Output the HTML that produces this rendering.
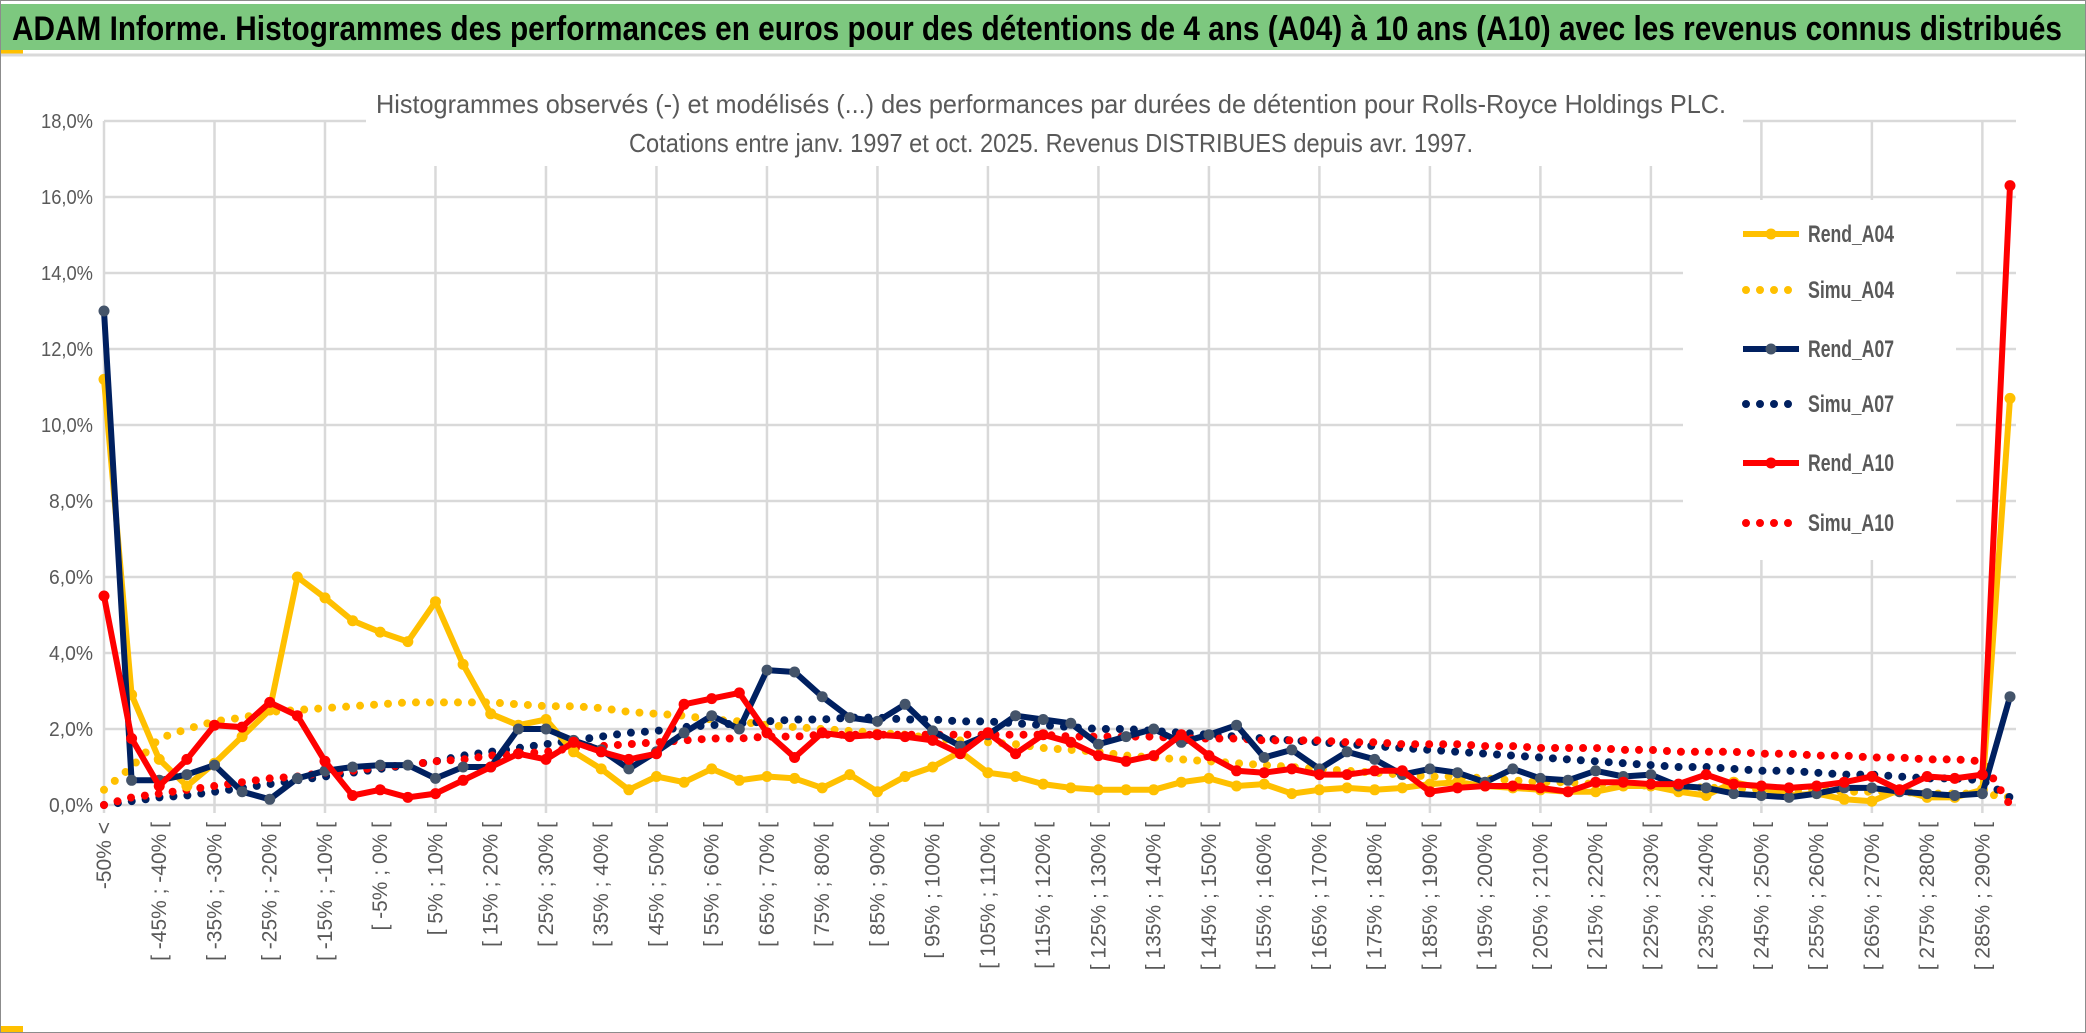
<!DOCTYPE html>
<html><head><meta charset="utf-8"><style>
html,body{margin:0;padding:0;background:#fff;}
svg{display:block;font-family:"Liberation Sans",sans-serif;}
</style></head><body>
<svg id="chart" width="2086" height="1033" viewBox="0 0 2086 1033" xmlns="http://www.w3.org/2000/svg">
<rect x="0.5" y="0.5" width="2085" height="1032" fill="#fff" stroke="#8c8c8c"/>
<rect x="1" y="4" width="2084" height="46" fill="#7DC87F"/>
<rect x="1" y="50" width="22" height="4" fill="#FFC000"/>
<line x1="1" y1="55" x2="2085" y2="55" stroke="#d9d9d9" stroke-width="3"/>
<text x="12" y="40" font-size="34" font-weight="bold" fill="#000" textLength="2050" lengthAdjust="spacingAndGlyphs">ADAM Informe. Histogrammes des performances en euros pour des détentions de 4 ans (A04) à 10 ans (A10) avec les revenus connus distribués</text>
<g id="grid"></g>
<g id="yaxis"></g>
<g id="xaxis"></g>
<rect x="366" y="82" width="1377" height="84" fill="#fff"/>
<text x="1051" y="113" font-size="26" fill="#595959" text-anchor="middle" textLength="1350" lengthAdjust="spacingAndGlyphs">Histogrammes observés (-) et modélisés (...) des performances par durées de détention pour Rolls-Royce Holdings PLC.</text>
<text x="1051" y="152" font-size="26" fill="#595959" text-anchor="middle" textLength="844" lengthAdjust="spacingAndGlyphs">Cotations entre janv. 1997 et oct. 2025. Revenus DISTRIBUES depuis avr. 1997.</text>
<rect x="1683" y="200" width="273" height="360" fill="#fff"/>
<g id="series"></g>
<g id="legend"></g>
<rect x="1" y="1026" width="22" height="6" fill="#FFC000"/>
</svg>
<script>
const categories = ["-50% <"];
for (let k = -50; k < 290; k += 5) categories.push("[ " + k + "% ; " + (k + 5) + "% [");
categories.push("> 290%");
const yTicks = [0, 2, 4, 6, 8, 10, 12, 14, 16, 18];
const yTickLabels = ["0,0%","2,0%","4,0%","6,0%","8,0%","10,0%","12,0%","14,0%","16,0%","18,0%"];
const rendA04 = [11.2,2.9,1.2,0.5,1.1,1.8,2.5,6.0,5.45,4.85,4.55,4.3,5.35,3.7,2.4,2.1,2.25,1.4,0.95,0.4,0.75,0.6,0.95,0.65,0.75,0.7,0.45,0.8,0.35,0.75,1.0,1.4,0.85,0.75,0.55,0.45,0.4,0.4,0.4,0.6,0.7,0.5,0.55,0.3,0.4,0.45,0.4,0.45,0.55,0.6,0.5,0.45,0.4,0.35,0.35,0.5,0.5,0.35,0.25,0.6,0.45,0.25,0.3,0.15,0.1,0.4,0.2,0.2,0.4,10.7];
const rendA07 = [13.0,0.65,0.65,0.8,1.05,0.35,0.15,0.7,0.9,1.0,1.05,1.05,0.7,1.0,1.0,2.0,2.0,1.7,1.45,0.95,1.4,1.9,2.35,2.0,3.55,3.5,2.85,2.3,2.2,2.65,1.95,1.55,1.85,2.35,2.25,2.15,1.6,1.8,2.0,1.65,1.85,2.1,1.25,1.45,0.95,1.4,1.2,0.8,0.95,0.85,0.6,0.95,0.7,0.65,0.9,0.75,0.8,0.5,0.45,0.3,0.25,0.2,0.3,0.45,0.45,0.35,0.3,0.25,0.3,2.85];
const rendA10 = [5.5,1.75,0.5,1.2,2.1,2.05,2.7,2.35,1.15,0.25,0.4,0.2,0.3,0.65,1.0,1.35,1.2,1.65,1.4,1.2,1.35,2.65,2.8,2.95,1.9,1.25,1.9,1.8,1.85,1.8,1.7,1.35,1.9,1.35,1.85,1.65,1.3,1.15,1.3,1.85,1.3,0.9,0.85,0.95,0.8,0.8,0.9,0.9,0.35,0.45,0.5,0.5,0.45,0.35,0.6,0.6,0.55,0.55,0.8,0.55,0.5,0.45,0.5,0.6,0.75,0.4,0.75,0.7,0.8,16.3];
const simuA04 = [0.4,1.0,1.75,2.0,2.2,2.3,2.45,2.5,2.55,2.6,2.65,2.7,2.7,2.7,2.7,2.65,2.6,2.6,2.55,2.45,2.4,2.35,2.25,2.2,2.1,2.05,2.0,1.95,1.9,1.85,1.75,1.7,1.65,1.6,1.5,1.45,1.4,1.3,1.25,1.2,1.15,1.1,1.05,1.0,0.95,0.9,0.85,0.8,0.75,0.75,0.7,0.65,0.6,0.6,0.55,0.55,0.5,0.5,0.45,0.45,0.4,0.4,0.4,0.35,0.35,0.35,0.3,0.3,0.3,0.2];
const simuA07 = [0.0,0.1,0.2,0.25,0.35,0.45,0.55,0.65,0.75,0.85,0.95,1.05,1.15,1.3,1.4,1.5,1.6,1.7,1.8,1.9,1.95,2.05,2.1,2.15,2.2,2.25,2.25,2.3,2.3,2.25,2.25,2.2,2.2,2.15,2.1,2.05,2.0,2.0,1.95,1.9,1.85,1.8,1.75,1.7,1.65,1.6,1.55,1.5,1.45,1.4,1.35,1.3,1.25,1.2,1.15,1.1,1.05,1.0,1.0,0.95,0.9,0.9,0.85,0.8,0.8,0.75,0.7,0.7,0.65,0.2];
const simuA10 = [0.0,0.2,0.3,0.4,0.5,0.6,0.7,0.75,0.85,0.9,1.0,1.05,1.15,1.2,1.3,1.35,1.4,1.5,1.55,1.6,1.65,1.7,1.75,1.75,1.8,1.8,1.85,1.85,1.85,1.85,1.85,1.85,1.85,1.85,1.85,1.8,1.8,1.8,1.8,1.75,1.75,1.75,1.7,1.7,1.7,1.65,1.65,1.6,1.6,1.6,1.55,1.55,1.5,1.5,1.5,1.45,1.45,1.4,1.4,1.4,1.35,1.35,1.3,1.3,1.25,1.25,1.2,1.2,1.15,0.0];
const seriesNames = ["Rend_A04","Simu_A04","Rend_A07","Simu_A07","Rend_A10","Simu_A10"];

const NS = "http://www.w3.org/2000/svg";
const X0 = 104, X1 = 2010, Y0 = 805, Y1 = 121, YMAX = 18, RIGHT = 2016;
function xPos(i){ return X0 + i * (X1 - X0) / (categories.length - 1); }
function yPos(v){ return Y0 - v * (Y0 - Y1) / YMAX; }
function mk(tag, attrs, parent){ const e = document.createElementNS(NS, tag); for (const k in attrs) e.setAttribute(k, attrs[k]); parent.appendChild(e); return e; }

const grid = document.getElementById("grid");
const yaxis = document.getElementById("yaxis");
const xaxis = document.getElementById("xaxis");
yTicks.forEach((t, i) => {
  const y = yPos(t);
  const l = mk("line", {x1: X0, x2: RIGHT, y1: y, y2: y, stroke: "#d9d9d9", "stroke-width": 2.5}, grid);
  
  
  const tx = mk("text", {x: 93, y: y + 7, "font-size": 20, fill: "#595959", "text-anchor": "end", textLength: t >= 10 ? 52 : 44, lengthAdjust: "spacingAndGlyphs"}, yaxis);
  tx.textContent = yTickLabels[i];
  
  
});
categories.forEach((c, i) => {
  const x = xPos(i);
  if (i % 4 === 0 && i < categories.length - 1) {
    const l = mk("line", {x1: x, x2: x, y1: Y1, y2: Y0 + 8, stroke: "#d9d9d9", "stroke-width": 2.5}, grid);
    
    
  }
  if (i % 2 === 0 && i < categories.length - 1) {
    const tx = mk("text", {x: 0, y: 0, "font-size": 21, fill: "#595959", "text-anchor": "end", transform: "translate(" + (x + 7) + ",822) rotate(-90)"}, xaxis);
    tx.textContent = c;
    
    
  }
});

const seriesG = document.getElementById("series");
function drawSolid(vals, color, marker, name){
  const g = mk("g", {}, seriesG);
  
  
  const pts = vals.map((v, i) => xPos(i).toFixed(1) + "," + yPos(v).toFixed(1)).join(" ");
  const p = mk("polyline", {points: pts, fill: "none", stroke: color, "stroke-width": 6, "stroke-linejoin": "round"}, g);
  
  
  vals.forEach((v, i) => {
    const c = mk("circle", {cx: xPos(i), cy: yPos(v), r: 5.5, fill: marker}, g);
    
    
  });
}
function drawDotted(vals, color, name){
  const pts = vals.map((v, i) => xPos(i).toFixed(1) + "," + yPos(v).toFixed(1)).join(" ");
  const p = mk("polyline", {points: pts, fill: "none", stroke: color, "stroke-width": 8, "stroke-dasharray": "0 14", "stroke-linecap": "round"}, seriesG);
  
  
}
drawDotted(simuA04, "#FFC000", "simu-a04-line");
drawDotted(simuA07, "#002060", "simu-a07-line");
drawDotted(simuA10, "#FF0000", "simu-a10-line");
drawSolid(rendA04, "#FFC000", "#FFC000", "rend-a04");
drawSolid(rendA07, "#002060", "#44546A", "rend-a07");
drawSolid(rendA10, "#FF0000", "#FF0000", "rend-a10");

const legend = document.getElementById("legend");
const legColors = ["#FFC000","#FFC000","#002060","#002060","#FF0000","#FF0000"];
const legY = [234, 290, 349, 404, 463, 523];
seriesNames.forEach((n, i) => {
  const y = legY[i];
  const g = mk("g", {}, legend);
  
  
  if (i % 2 === 0) {
    mk("line", {x1: 1743, x2: 1799, y1: y, y2: y, stroke: legColors[i], "stroke-width": 6}, g);
    mk("circle", {cx: 1771, cy: y, r: 5.5, fill: i === 2 ? "#44546A" : legColors[i]}, g);
  } else {
    mk("line", {x1: 1746, x2: 1799, y1: y, y2: y, stroke: legColors[i], "stroke-width": 8, "stroke-dasharray": "0 14", "stroke-linecap": "round"}, g);
  }
  const t = mk("text", {x: 1808, y: y + 8, "font-size": 24, "font-weight": "bold", fill: "#595959", textLength: 86, lengthAdjust: "spacingAndGlyphs"}, g);
  t.textContent = n;
});
</script>
</body></html>
